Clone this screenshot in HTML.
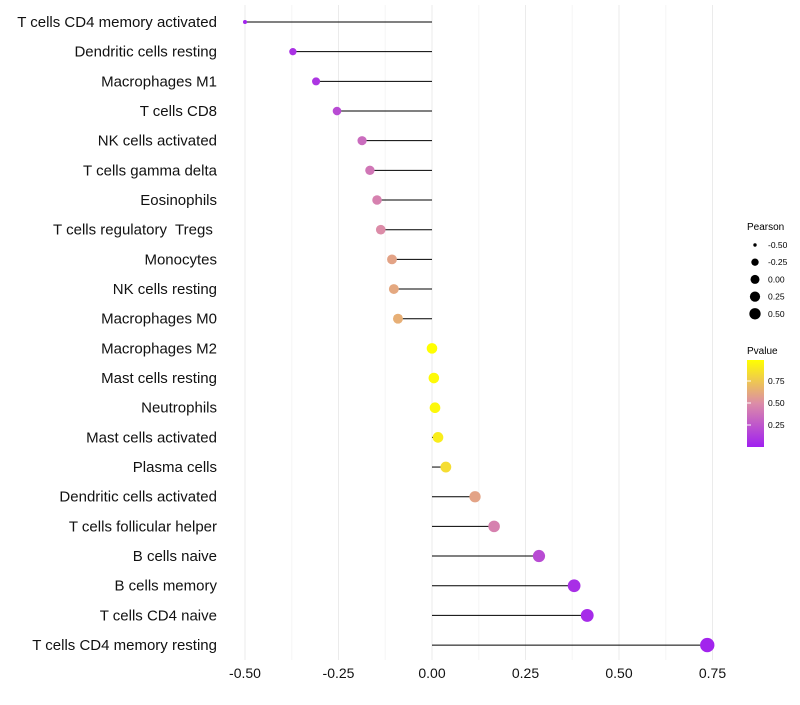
<!DOCTYPE html>
<html><head><meta charset="utf-8"><style>
body{margin:0;background:#fff;font-family:"Liberation Sans",sans-serif}
#ylabels text{white-space:pre}
</style></head><body>
<svg id="chart" width="800" height="700" xmlns="http://www.w3.org/2000/svg">
<defs><linearGradient id="pg" x1="0" y1="1" x2="0" y2="0">
<stop offset="0" stop-color="#A020F0"/><stop offset="0.5" stop-color="#DC8CA8"/><stop offset="1" stop-color="#FFFF00"/></linearGradient></defs>
<g id="grid"></g><g id="marks"></g><g id="ylabels"></g><g id="xlabels"></g>
<g>
<text x="747" y="230" font-size="10">Pearson</text>
<g id="sizeLeg"></g>
</g>
<g>
<text x="747" y="354" font-size="10">Pvalue</text>
<rect x="747" y="360" width="17" height="87" fill="url(#pg)"/>
<g id="colLeg"></g>
</g>
</svg>
<script>
const cats=["T cells CD4 memory activated","Dendritic cells resting","Macrophages M1","T cells CD8","NK cells activated","T cells gamma delta","Eosinophils","T cells regulatory  Tregs ","Monocytes","NK cells resting","Macrophages M0","Macrophages M2","Mast cells resting","Neutrophils","Mast cells activated","Plasma cells","Dendritic cells activated","T cells follicular helper","B cells naive","B cells memory","T cells CD4 naive","T cells CD4 memory resting"];
const pearson=[-0.50,-0.372,-0.31,-0.254,-0.187,-0.166,-0.147,-0.137,-0.107,-0.102,-0.091,0.0,0.005,0.008,0.016,0.037,0.115,0.166,0.286,0.38,0.415,0.736];
const pvalue=[0.02,0.08,0.1,0.2,0.35,0.4,0.45,0.5,0.6,0.62,0.65,1.0,0.98,0.97,0.92,0.85,0.6,0.45,0.2,0.07,0.05,0.02];
const xticks=[-0.5,-0.25,0,0.25,0.5,0.75];
const xtickLabels=["-0.50","-0.25","0.00","0.25","0.50","0.75"];
const sizeLegVals=[-0.5,-0.25,0,0.25,0.5];
const sizeLegLabels=["-0.50","-0.25","0.00","0.25","0.50"];
const colLegVals=[0.25,0.5,0.75];
const colLegLabels=["0.25","0.50","0.75"];
const NS="http://www.w3.org/2000/svg";
const X=v=>432+v*374;
const Y=i=>22+i*29.67;
const R=v=>2+5.2*Math.sqrt(Math.max(0,(v+0.5)/1.25));
function lerp(a,b,t){return a.map((x,i)=>Math.round(x+(b[i]-x)*t));}
function col(p){const c0=[160,32,240],c1=[220,140,168],c2=[255,255,0];
 const c=p<0.5?lerp(c0,c1,p/0.5):lerp(c1,c2,(p-0.5)/0.5);return `rgb(${c})`;}
function mk(tag,attrs,parent){const e=document.createElementNS(NS,tag);for(const k in attrs)e.setAttribute(k,attrs[k]);document.getElementById(parent).appendChild(e);return e;}
for(let v=-0.5;v<=0.751;v+=0.125){
 const g=mk('line',{x1:X(v),x2:X(v),y1:5,y2:660,stroke:Math.abs((v*4)%1)<0.01?'#ebebeb':'#f5f5f5','stroke-width':1},'grid');
 
 
}
cats.forEach((c,i)=>{
 const l=mk('line',{x1:X(0),x2:X(pearson[i]),y1:Y(i),y2:Y(i),stroke:'#000','stroke-width':1},'marks');
 
 
 const p=mk('circle',{cx:X(pearson[i]),cy:Y(i),r:R(pearson[i]),fill:col(pvalue[i])},'marks');
 
 
 const t=mk('text',{x:217,y:Y(i)+5,'text-anchor':'end','font-size':15,fill:'#111'},'ylabels');
 t.textContent=c;
 
 
});
xticks.forEach((v,i)=>{
 const t=mk('text',{x:X(v),y:678,'text-anchor':'middle','font-size':14,fill:'#111'},'xlabels');
 t.textContent=xtickLabels[i];
 
 
});
sizeLegVals.forEach((v,i)=>{
 const y=245+i*17.2;
 const c=mk('circle',{cx:755,cy:y,r:R(v)*0.85,fill:'#000'},'sizeLeg');
 
 
 const t=mk('text',{x:768,y:y+3,'font-size':8.5},'sizeLeg');
 t.textContent=sizeLegLabels[i];
 
 
});
colLegVals.forEach((v,i)=>{
 const y=447-v*88;
 const t=mk('text',{x:768,y:y+3,'font-size':8.5},'colLeg');
 t.textContent=colLegLabels[i];
 
 
 const l=mk('line',{x1:747,x2:751,y1:y,y2:y,stroke:'#fff'},'colLeg');
 
 
});
</script>
</body></html>
